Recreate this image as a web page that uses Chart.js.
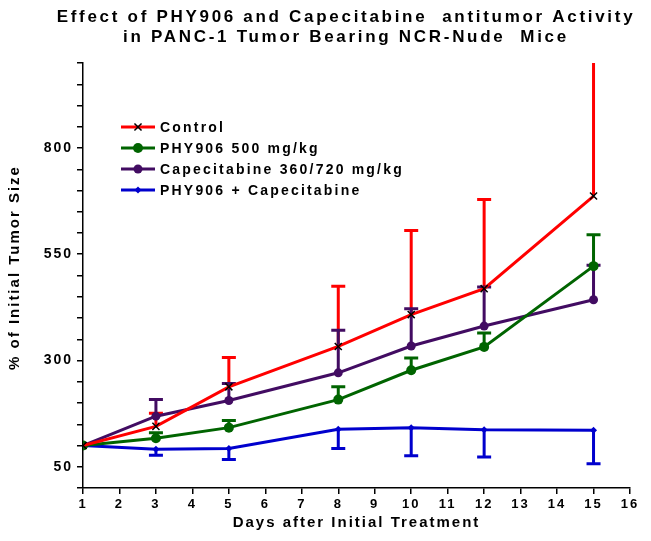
<!DOCTYPE html>
<html>
<head>
<meta charset="utf-8">
<script src="https://cdn.jsdelivr.net/npm/chart.js@4.4.1/dist/chart.umd.min.js"></script>
<style>
    html, body { margin: 0; padding: 0; background: #fff; }
    #contenedor { width: 651px; height: 541px; }
</style>
</head>
<body>
<div id="contenedor"><canvas id="chartTumor" width="651" height="541"></canvas></div>
<script>
// dias de medicion
const dias = [1, 3, 5, 8, 10, 12, 15];

// % del tamaño inicial (media) y error de cada grupo
const control = [100, 145, 238, 333, 408, 469, 687];
const controlErr = [0, 31, 69, 142, 198, 210, 380];

const phy906 = [100, 117, 142, 208, 277, 332, 522];
const phy906Err = [0, 13, 17, 30, 29, 33, 74];

const capecitabina = [100, 169, 206, 271, 334, 381, 443];
const capecitabinaErr = [0, 39, 40, 100, 88, 92, 81];

const combinado = [100, 91, 93, 138, 142, 137, 136];
const combinadoErr = [0, 14, 26, 45, 66, 64, 79];

const etiquetasY = [50, 300, 550, 800];

const FUENTE = '"Liberation Sans", Arial, sans-serif';

function puntos(valores) {
    return dias.map((d, i) => ({ x: d, y: valores[i] }));
}

// espaciado de letras y pequeños corrimientos de los titulos
const ajustes = {
    id: 'ajustes',
    beforeLayout(chart) { chart.ctx.letterSpacing = '2px'; },
    beforeDraw(chart) {
        chart.ctx.letterSpacing = '2px';

        const t = chart.titleBlock;
        if (t && !t._envuelto) {
            const dibujar = t.draw.bind(t);
            t.draw = function (area) {
                const c = chart.ctx;
                c.save();
                c.letterSpacing = '2.7px';
                c.translate(31, 0);
                dibujar(area);
                c.restore();
            };
            t._envuelto = true;
        }

        const ey = chart.scales.y;
        if (ey && !ey._envuelto) {
            const titulo = ey.drawTitle.bind(ey);
            ey.drawTitle = function () {
                const c = chart.ctx;
                c.save();
                c.translate(0, -8);
                titulo();
                c.restore();
            };
            ey._envuelto = true;
        }
    }
};

// barras de error de un solo lado
const barrasError = {
    id: 'barrasError',
    beforeDatasetsDraw(chart) {
        const { ctx, chartArea, scales: { x, y } } = chart;
        ctx.save();
        ctx.beginPath();
        ctx.rect(chartArea.left, chartArea.top, chartArea.width, chartArea.height);
        ctx.clip();
        chart.data.datasets.forEach(ds => {
            if (!ds.errores) return;
            ctx.strokeStyle = ds.borderColor;
            ctx.lineWidth = 3;
            ds.data.forEach((p, i) => {
                const e = ds.errores[i];
                if (!e) return;
                const px = x.getPixelForValue(p.x);
                const y0 = y.getPixelForValue(p.y);
                const y1 = y.getPixelForValue(p.y + ds.direccion * e);
                ctx.beginPath();
                ctx.moveTo(px, y0);
                ctx.lineTo(px, y1);
                ctx.moveTo(px - 7, y1);
                ctx.lineTo(px + 7, y1);
                ctx.stroke();
            });
        });
        ctx.restore();
    }
};

// leyenda dentro del area del grafico
const leyenda = {
    id: 'leyenda',
    afterDraw(chart) {
        const ctx = chart.ctx;
        ctx.save();
        ctx.letterSpacing = '2.2px';
        ctx.font = 'bold 14px ' + FUENTE;
        ctx.textBaseline = 'middle';
        chart.data.datasets.forEach((ds, i) => {
            const yy = 127 + i * 21;
            ctx.strokeStyle = ds.borderColor;
            ctx.lineWidth = 3;
            ctx.beginPath();
            ctx.moveTo(121, yy);
            ctx.lineTo(155, yy);
            ctx.stroke();
            ctx.fillStyle = ds.pointBackgroundColor;
            ctx.strokeStyle = ds.pointBorderColor;
            ctx.lineWidth = ds.pointBorderWidth;
            Chart.helpers.drawPoint(ctx, {
                pointStyle: ds.pointStyle,
                radius: ds.pointRadius,
                borderWidth: ds.pointBorderWidth,
                rotation: 0
            }, 138, yy);
            ctx.fillStyle = '#000';
            ctx.fillText(ds.label, 160, yy + 1);
        });
        ctx.restore();
    }
};

function crearGrafica() {
    const canvas = document.getElementById('chartTumor');
    const ctx = canvas.getContext('2d');

    Chart.defaults.font.family = FUENTE;
    Chart.defaults.font.weight = 'bold';
    Chart.defaults.color = '#000';

    new Chart(ctx, {
        type: 'line',
        data: {
            datasets: [
                {
                    label: 'Control',
                    data: puntos(control),
                    errores: controlErr,
                    direccion: 1,
                    borderColor: '#ff0000',
                    borderWidth: 3,
                    pointStyle: 'crossRot',
                    pointRadius: 5,
                    pointBorderWidth: 1.5,
                    pointBorderColor: '#000',
                    pointBackgroundColor: '#000'
                },
                {
                    label: 'PHY906 500 mg/kg',
                    data: puntos(phy906),
                    errores: phy906Err,
                    direccion: 1,
                    borderColor: '#006400',
                    borderWidth: 3,
                    pointStyle: 'circle',
                    pointRadius: 5,
                    pointBorderWidth: 0,
                    pointBorderColor: '#006400',
                    pointBackgroundColor: '#006400'
                },
                {
                    label: 'Capecitabine 360/720 mg/kg',
                    data: puntos(capecitabina),
                    errores: capecitabinaErr,
                    direccion: 1,
                    borderColor: '#420c62',
                    borderWidth: 3,
                    pointStyle: 'circle',
                    pointRadius: 4.5,
                    pointBorderWidth: 0,
                    pointBorderColor: '#420c62',
                    pointBackgroundColor: '#420c62'
                },
                {
                    label: 'PHY906 + Capecitabine',
                    data: puntos(combinado),
                    errores: combinadoErr,
                    direccion: -1,
                    borderColor: '#0000cd',
                    borderWidth: 3,
                    pointStyle: 'rectRot',
                    pointRadius: 3.5,
                    pointBorderWidth: 0,
                    pointBorderColor: '#0000cd',
                    pointBackgroundColor: '#0000cd'
                }
            ]
        },
        options: {
            responsive: false,
            animation: false,
            devicePixelRatio: 1,
            events: [],
            layout: { padding: { left: 0, right: 21, top: 0, bottom: 0 } },
            plugins: {
                legend: { display: false },
                tooltip: { enabled: false },
                title: {
                    display: true,
                    fullSize: true,
                    text: [
                        'Effect of PHY906 and Capecitabine  antitumor Activity',
                        'in PANC-1 Tumor Bearing NCR-Nude  Mice'
                    ],
                    font: { size: 17, weight: 'bold', lineHeight: '20px' },
                    color: '#000',
                    padding: { top: 7, bottom: 16 }
                }
            },
            scales: {
                x: {
                    type: 'linear',
                    min: 1,
                    max: 16,
                    afterFit: s => { s.height = 53; },
                    ticks: {
                        stepSize: 1,
                        autoSkip: false,
                        maxRotation: 0,
                        padding: 3,
                        font: { size: 13, weight: 'bold' },
                        color: '#000'
                    },
                    grid: {
                        drawOnChartArea: false,
                        drawTicks: true,
                        tickLength: 6,
                        color: '#000',
                        lineWidth: 1.5
                    },
                    border: { display: true, color: '#000', width: 1.5 },
                    title: {
                        display: true,
                        text: 'Days after Initial Treatment',
                        font: { size: 15, weight: 'bold', lineHeight: '18px' },
                        color: '#000',
                        padding: { top: 0, bottom: 9 }
                    }
                },
                y: {
                    type: 'linear',
                    min: 0,
                    max: 1000,
                    afterFit: s => { s.width = 83; },
                    ticks: {
                        stepSize: 50,
                        autoSkip: false,
                        padding: 4,
                        font: { size: 14, weight: 'bold' },
                        color: '#000',
                        callback: v => etiquetasY.includes(v) ? String(v) : ''
                    },
                    grid: {
                        drawOnChartArea: false,
                        drawTicks: true,
                        tickLength: 6,
                        color: '#000',
                        lineWidth: 1.5
                    },
                    border: { display: true, color: '#000', width: 1.5 },
                    title: {
                        display: true,
                        text: '% of Initial Tumor Size',
                        font: { size: 15, weight: 'bold', lineHeight: '18px' },
                        color: '#000',
                        padding: { top: 6, bottom: 0 }
                    }
                }
            }
        },
        plugins: [ajustes, barrasError, leyenda]
    });
}

crearGrafica();
</script>
</body>
</html>
